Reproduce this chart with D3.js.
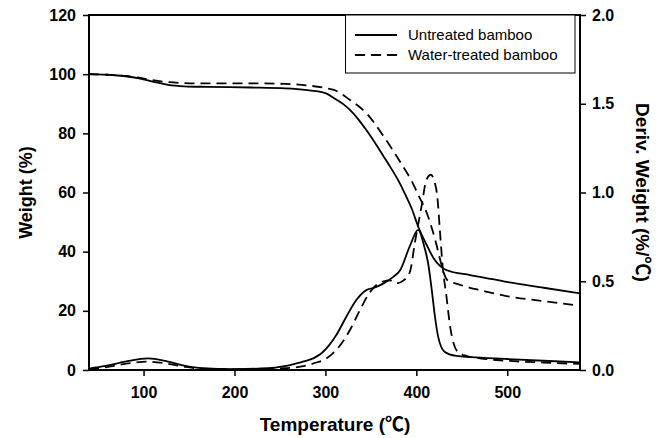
<!DOCTYPE html>
<html>
<head>
<meta charset="utf-8">
<script src="https://cdn.jsdelivr.net/npm/d3@7"></script>
<style>
  body { margin: 0; background: #fff; }
  svg { display: block; font-family: Arial, "Liberation Sans", "DejaVu Sans", sans-serif; }
  .cjk { font-family: "Noto Sans CJK SC", "DejaVu Sans", sans-serif; }
</style>
</head>
<body>
<svg id="chart" width="660" height="438"></svg>
<script>
// TGA weight (%) vs temperature (°C)
const untreatedWeight = [
  [40, 100], [60, 99.8], [80, 99.3], [95, 98.6], [109, 97.6], [127, 96.4], [145, 95.9],
  [170, 95.7], [218, 95.5], [256, 95.2], [280, 94.6], [300, 93.6], [310, 91.8], [320, 89.8],
  [327, 87.9], [336, 84.8], [345, 81.1], [355, 76.6], [364, 72.2], [369, 69.8],
  [382, 63], [386, 60.5], [395, 54.5], [402, 48.5], [411, 42.5], [419, 37.8],
  [426, 35.2], [433, 33.8], [459, 32.1], [470, 31.5], [499, 29.8], [540, 27.8], [580, 25.9]
];
const treatedWeight = [
  [40, 100], [60, 99.8], [80, 99.4], [95, 98.8], [109, 98.0], [127, 97.3], [160, 96.9],
  [218, 96.9], [256, 96.7], [280, 96.2], [300, 95.3], [310, 94.6], [327, 91.3],
  [336, 89.3], [345, 86.8], [364, 79.0], [382, 70.5], [386, 68.5], [395, 63.8],
  [404, 58.0], [411, 53.5], [417, 48], [422, 42.5], [426, 37.5], [430, 33],
  [434, 30.4], [445, 29.1], [459, 27.8], [470, 27.0], [499, 25.0], [540, 23.3], [580, 21.7]
];

// DTG deriv. weight (%/°C) vs temperature (°C)
const untreatedDeriv = [
  [40, 0.008], [58, 0.023], [80, 0.047], [105, 0.066], [127, 0.047], [146, 0.023],
  [164, 0.01], [200, 0.005], [237, 0.01], [255, 0.022], [274, 0.045], [283, 0.058],
  [297, 0.1], [312, 0.197], [323, 0.3], [334, 0.394], [345, 0.45], [353, 0.462],
  [364, 0.488], [375, 0.526], [382, 0.56], [393, 0.7], [402, 0.79], [409, 0.69],
  [413, 0.6], [417, 0.45], [420.5, 0.3], [424, 0.188], [431, 0.103], [444, 0.079],
  [460, 0.072], [500, 0.062], [540, 0.052], [580, 0.043]
];
const treatedDeriv = [
  [40, 0.005], [58, 0.015], [80, 0.035], [105, 0.047], [127, 0.035], [146, 0.017],
  [164, 0.008], [200, 0.004], [237, 0.006], [255, 0.01], [274, 0.02], [292, 0.045],
  [298, 0.056], [312, 0.113], [327, 0.225], [338, 0.338], [347, 0.423], [354, 0.469],
  [364, 0.5], [371, 0.505], [378, 0.488], [386, 0.505], [393, 0.554], [398.5, 0.72],
  [406, 0.93], [411, 1.07], [416, 1.1], [420, 1.06], [423, 0.98], [426, 0.78],
  [429, 0.58], [433, 0.42], [437, 0.25], [441, 0.15], [446, 0.1], [455, 0.079],
  [470, 0.066], [500, 0.052], [540, 0.042], [580, 0.034]
];

const xTicks = [100, 200, 300, 400, 500];
const yLeftTicks = [0, 20, 40, 60, 80, 100, 120];
const yRightTicks = [0, 0.5, 1.0, 1.5, 2.0];
const legendLabels = ["Untreated bamboo", "Water-treated bamboo"];

const svg = d3.select("#chart");
const margin = { top: 15, right: 80, bottom: 68, left: 89 };
const width = 660, height = 438;

const xScale = d3.scaleLinear().domain([40, 580]).range([margin.left, width - margin.right]);
const yLeft = d3.scaleLinear().domain([0, 120]).range([height - margin.bottom, margin.top]);
const yRight = d3.scaleLinear().domain([0, 2]).range([height - margin.bottom, margin.top]);

svg.append("clipPath").attr("id", "plot-clip")
  .append("rect")
  .attr("x", margin.left).attr("y", margin.top)
  .attr("width", width - margin.left - margin.right)
  .attr("height", height - margin.top - margin.bottom);

const weightLine = d3.line()
  .x(d => xScale(d[0]))
  .y(d => yLeft(d[1]))
  .curve(d3.curveMonotoneX);
const derivLine = d3.line()
  .x(d => xScale(d[0]))
  .y(d => yRight(d[1]))
  .curve(d3.curveMonotoneX);

const plot = svg.append("g").attr("clip-path", "url(#plot-clip)");
const series = [
  { data: untreatedWeight, line: weightLine, dash: null },
  { data: treatedWeight, line: weightLine, dash: "10,6" },
  { data: untreatedDeriv, line: derivLine, dash: null },
  { data: treatedDeriv, line: derivLine, dash: "10,6" }
];
series.forEach(s => {
  plot.append("path")
    .attr("d", s.line(s.data))
    .attr("fill", "none")
    .attr("stroke", "#000")
    .attr("stroke-width", 1.8)
    .attr("stroke-dasharray", s.dash);
});

// axes
const tickFont = g => g.selectAll("text")
  .attr("font-size", 16).attr("font-weight", "bold").attr("fill", "#000");

svg.append("g")
  .attr("transform", `translate(0, ${height - margin.bottom})`)
  .call(d3.axisBottom(xScale).tickValues(xTicks).tickSize(6).tickPadding(11).tickSizeOuter(0))
  .call(tickFont)
  .call(g => g.select(".domain").remove());

svg.append("g")
  .attr("transform", `translate(${margin.left}, 0)`)
  .call(d3.axisLeft(yLeft).tickValues(yLeftTicks).tickSize(6).tickPadding(7).tickSizeOuter(0))
  .call(tickFont)
  .call(g => g.select(".domain").remove());

svg.append("g")
  .attr("transform", `translate(${width - margin.right}, 0)`)
  .call(d3.axisRight(yRight).tickValues(yRightTicks).tickFormat(d3.format(".1f")).tickSize(6).tickPadding(6).tickSizeOuter(0))
  .call(tickFont)
  .call(g => g.select(".domain").remove());

svg.selectAll(".tick line").attr("stroke", "#000").attr("stroke-width", 1.5);

// frame
svg.append("rect")
  .attr("x", margin.left).attr("y", margin.top)
  .attr("width", width - margin.left - margin.right)
  .attr("height", height - margin.top - margin.bottom)
  .attr("fill", "none")
  .attr("stroke", "#000")
  .attr("stroke-width", 2);

// axis titles
const xTitle = svg.append("text")
  .attr("x", 335)
  .attr("y", 431)
  .attr("text-anchor", "middle")
  .attr("font-size", 19).attr("font-weight", "bold");
xTitle.append("tspan").text("Temperature (");
xTitle.append("tspan").attr("class", "cjk").text("℃");
xTitle.append("tspan").text(")");

svg.append("text")
  .attr("transform", `translate(32, ${(margin.top + height - margin.bottom) / 2}) rotate(-90)`)
  .attr("text-anchor", "middle")
  .attr("font-size", 18).attr("font-weight", "bold")
  .text("Weight (%)");

const yTitle = svg.append("text")
  .attr("transform", `translate(636, ${(margin.top + height - margin.bottom) / 2}) rotate(90)`)
  .attr("text-anchor", "middle")
  .attr("font-size", 19).attr("font-weight", "bold");
yTitle.append("tspan").text("Deriv. Weight (%/");
yTitle.append("tspan").attr("class", "cjk").text("℃");
yTitle.append("tspan").text(")");

// legend
const legend = svg.append("g");
legend.append("rect")
  .attr("x", 345.5).attr("y", margin.top)
  .attr("width", 229.5).attr("height", 58)
  .attr("fill", "#fff")
  .attr("stroke", "#000")
  .attr("stroke-width", 1);
legendLabels.forEach((label, i) => {
  const y = 35 + i * 20;
  legend.append("line")
    .attr("x1", 355).attr("x2", 397)
    .attr("y1", y).attr("y2", y)
    .attr("stroke", "#000")
    .attr("stroke-width", 1.8)
    .attr("stroke-dasharray", i === 0 ? null : "10,6");
  legend.append("text")
    .attr("x", 408).attr("y", y + 5)
    .attr("font-size", 15)
    .text(label);
});
</script>
</body>
</html>
